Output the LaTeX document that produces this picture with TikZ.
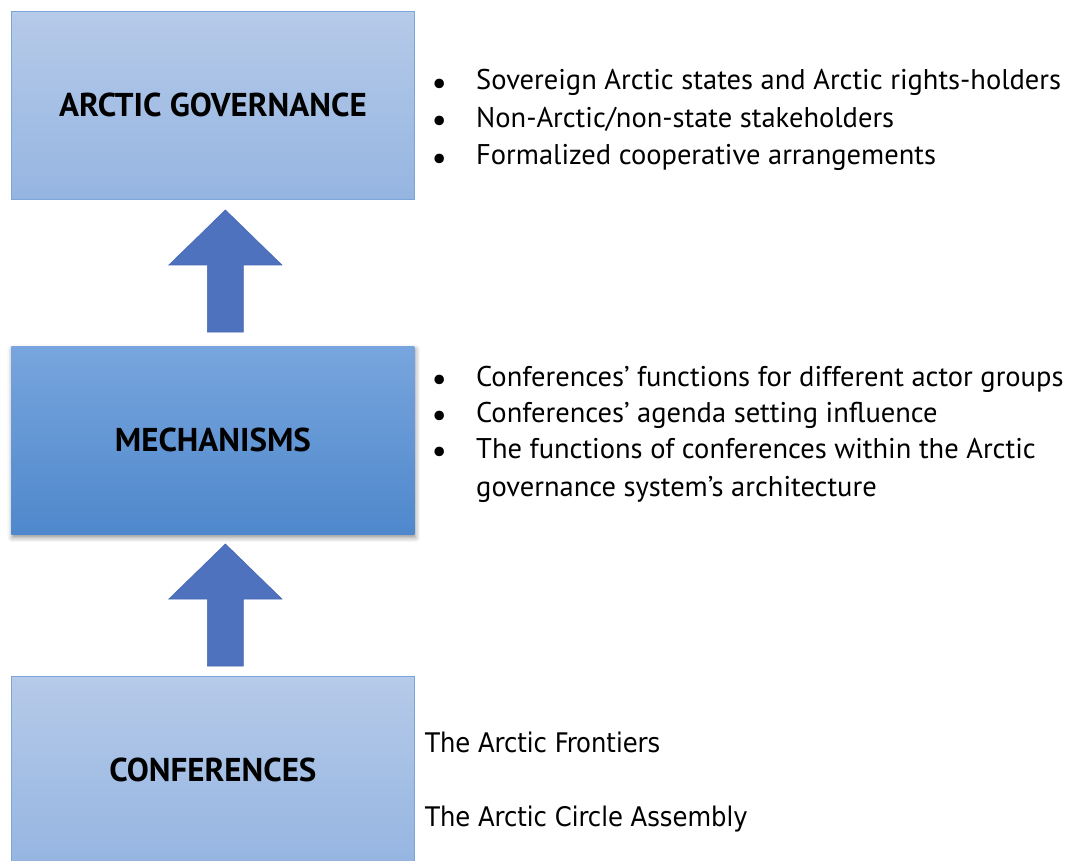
\documentclass[tikz,border=0pt]{standalone}
\usepackage{fontspec}
\setmainfont{PT Sans}
\newfontfamily\plainfont{DejaVu Sans Condensed}
\usetikzlibrary{calc,shadows.blur}

\definecolor{lighttop}{RGB}{182,202,233}
\definecolor{lightbot}{RGB}{149,181,225}
\definecolor{boxedge}{RGB}{126,165,219}
\definecolor{midtop}{RGB}{120,165,221}
\definecolor{midbot}{RGB}{78,136,204}
\definecolor{arrowblue}{RGB}{79,114,191}
\definecolor{arrowedge}{RGB}{70,104,178}

% list bullet: a larger dot, centred in its own little column
\newcommand\listdot{\makebox[16pt][c]{\raisebox{-4.5pt}{\fontsize{34}{34}\selectfont\textbullet}}}

\tikzset{
  levelbox/.style={draw=boxedge, line width=0.8pt, anchor=north west,
    minimum width=403pt, minimum height=188pt, inner sep=0pt,
    font=\fontsize{33}{38}\selectfont\bfseries, text=black,
    shading=axis, shading angle=0},
  lightbox/.style={levelbox, top color=lighttop, bottom color=lightbot},
  darkbox/.style={levelbox, draw=none, top color=midtop, bottom color=midbot,
    blur shadow={shadow xshift=1pt, shadow yshift=-3pt,
      shadow blur radius=5pt, shadow opacity=45}},
  listtext/.style={anchor=base west, inner sep=0pt, align=left,
    font=\fontsize{28.5}{37.5}\selectfont},
  plaintext/.style={anchor=base west, inner sep=0pt,
    font=\plainfont\fontsize{27}{30}\selectfont},
  pics/blockup/.style={code={
    \fill[arrowblue, draw=arrowedge, line width=0.6pt]
      (-18,0) -- (-18,-67) -- (-56.5,-67) -- (0,-122)
      -- (56.5,-67) -- (18,-67) -- (18,0) -- cycle;}}
}

\begin{document}
\begin{tikzpicture}[x=1pt,y=-1pt]
  \useasboundingbox (0,0) rectangle (1066,861);
  \clip (0,0) rectangle (1066,861);

  % the three levels
  \node[lightbox] (gov)  at (11,11)  {ARCTIC GOVERNANCE};
  \node[darkbox]  (mech) at (11,346) {MECHANISMS};
  \node[lightbox] (conf) at (11,676) {CONFERENCES};

  % block arrows pointing upward between the levels
  \pic at ($(mech.north)+(12.5,-14)$) {blockup};
  \pic at ($(conf.north)+(12.5,-10)$) {blockup};

  % descriptions beside each level
  \node[listtext] (govlist) at (431,90) {%
    \begin{tabular}[t]{@{}p{45pt}@{}l@{}}
      \listdot & Sovereign Arctic states and Arctic rights-holders\\
      \listdot & Non-Arctic/non-state stakeholders\\
      \listdot & Formalized cooperative arrangements
    \end{tabular}};

  \node[listtext] (mechlist) at (431,386) {%
    \fontsize{28.5}{36}\selectfont
    \begin{tabular}[t]{@{}p{45pt}@{}l@{}}
      \listdot & Conferences’ functions for different actor groups\\
      \listdot & Conferences’ agenda setting influence\\
      \listdot & The functions of conferences within the Arctic\\[2pt]
               & governance system\symbol{"0027}s architecture
    \end{tabular}};

  \node[plaintext] (frontiers) at (425,752) {The Arctic Frontiers};
  \node[plaintext] (circle)    at (425,826) {The Arctic Circle Assembly};
\end{tikzpicture}
\end{document}
